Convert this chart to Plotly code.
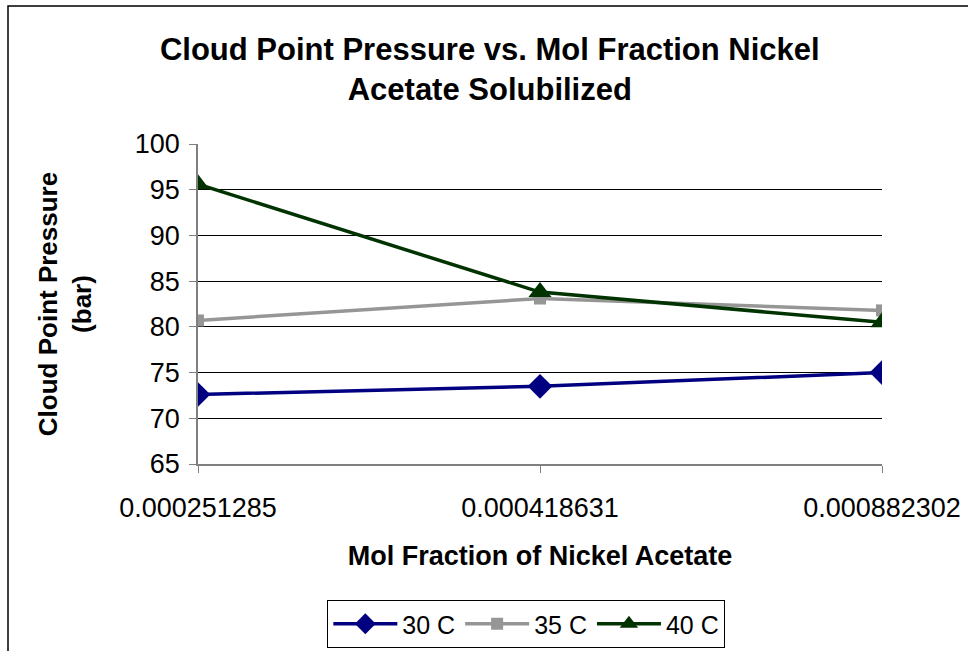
import plotly.graph_objects as go

categories = ["0.000251285", "0.000418631", "0.000882302"]
series_names = ["30 C", "35 C", "40 C"]
p30 = [72.6, 73.5, 75.0]
p35 = [80.7, 83.1, 81.8]
p40 = [95.6, 83.8, 80.5]
y_ticks = [65, 70, 75, 80, 85, 90, 95, 100]

colors = ["#000080", "#969696", "#003300"]
symbols = ["diamond", "square", "triangle-up"]
sizes = [19, 12, 20]

W, H = 968, 651
L, R, T, B = 198, 86, 144, 187
PW, PH = W - L - R, H - T - B

fig = go.Figure()
for name, vals, c, s, sz in zip(series_names, [p30, p35, p40], colors, symbols, sizes):
    fig.add_trace(go.Scatter(
        x=categories, y=vals, name=name, mode="lines+markers",
        line=dict(color=c, width=3.5),
        marker=dict(symbol=s, size=sz, color=c),
    ))

font_family = "Liberation Sans, Arial, sans-serif"
fig.update_layout(
    width=W, height=H,
    margin=dict(l=L, r=R, t=T, b=B),
    paper_bgcolor="white", plot_bgcolor="white",
    font=dict(family=font_family, color="black", size=26),
    title=dict(
        text="<b>Cloud Point Pressure vs. Mol Fraction Nickel<br>Acetate Solubilized</b>",
        x=0.506, xanchor="center", y=0.908, yanchor="top",
        font=dict(size=31, family=font_family),
    ),
    xaxis=dict(
        type="category", range=[0, 2], automargin=False,
        showline=True, linecolor="#808080", linewidth=1.5,
        ticks="outside", tickcolor="#808080", ticklen=7,
        ticklabelstandoff=12,
        showgrid=False, tickfont=dict(size=27),
        title=dict(text="<b>Mol Fraction of Nickel Acetate</b>", font=dict(size=27), standoff=24),
    ),
    yaxis=dict(
        range=[65, 100], tickvals=y_ticks, automargin=False,
        showline=True, linecolor="#808080", linewidth=1.5,
        ticks="outside", tickcolor="#808080", ticklen=7,
        ticklabelstandoff=4,
        showgrid=True, gridcolor="black", gridwidth=1,
        zeroline=False, tickfont=dict(size=27),
        title=dict(text="<b>Cloud Point Pressure<br>(bar)</b>", font=dict(size=26), standoff=36),
    ),
    legend=dict(
        orientation="h", x=0.48, xanchor="center",
        yref="container", y=1 - 600 / H, yanchor="top",
        bordercolor="black", borderwidth=1, font=dict(size=25),
        tracegroupgap=0, itemwidth=64,
    ),
    shapes=[dict(type="rect", xref="paper", yref="paper",
                 x0=(8 - L) / PW, x1=1 + (R + 10) / PW,
                 y0=-(B + 10) / PH, y1=1 + (T - 6) / PH,
                 line=dict(color="black", width=1.5))],
)

fig.write_html(
    "out.html",
    config={"displayModeBar": False},
    post_script=(
        "document.documentElement.style.margin='0';"
        "document.body.style.margin='0';"
        "document.documentElement.style.overflow='hidden';"
        "document.body.style.overflow='hidden';"
    ),
)
